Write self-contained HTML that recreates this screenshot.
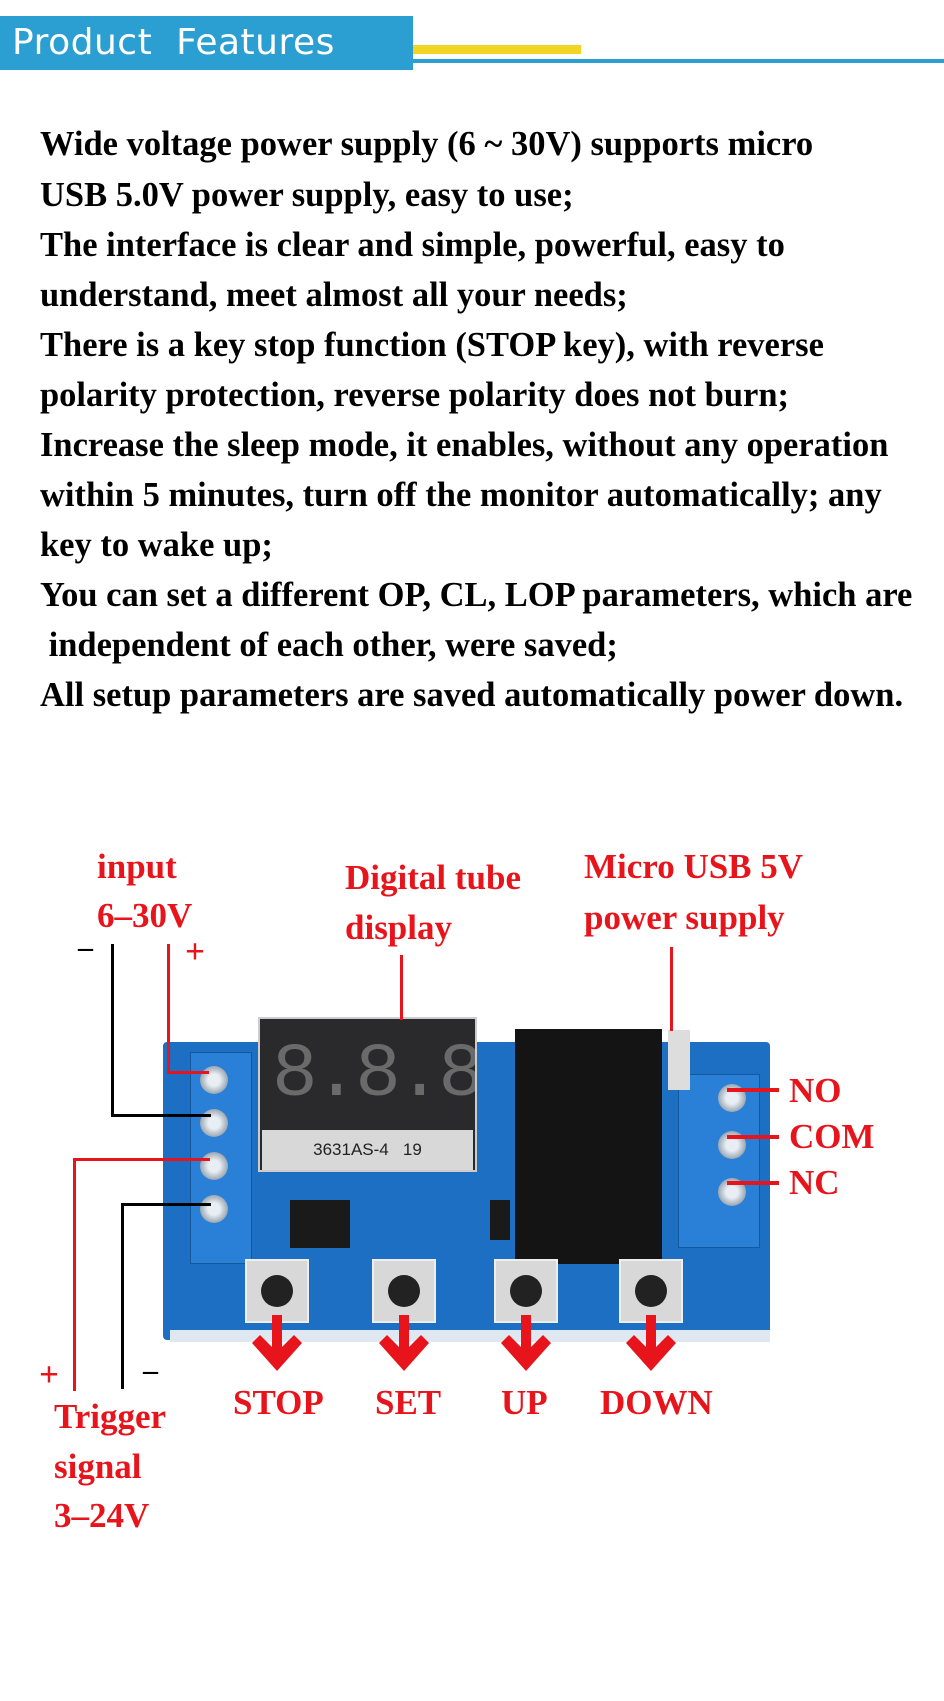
<!DOCTYPE html>
<html><head><meta charset="utf-8"><style>
*{margin:0;padding:0;box-sizing:border-box}
body{width:944px;height:1701px;background:#fff;position:relative;overflow:hidden;font-family:"Liberation Serif",serif}
.a{position:absolute}
.t{position:absolute;left:40px;font-weight:bold;font-size:34.5px;line-height:50px;color:#000;white-space:nowrap}
.r{position:absolute;color:#e8141c;font-weight:bold;font-size:35px;white-space:nowrap;line-height:1}
.ln{position:absolute}
.scr{position:absolute;width:28px;height:28px;border-radius:50%;background:radial-gradient(circle,#e8eef4 30%,#9aa7b3 70%);}
.btn{position:absolute;width:64px;height:64px;background:#d8d8d8;border:2px solid #eee}
.btn:after{content:"";position:absolute;left:14px;top:14px;width:32px;height:32px;border-radius:50%;background:#222}
</style></head><body>
<div class="a" style="left:0;top:16px;width:413px;height:54px;background:#2b9ed2"></div>
<div class="a" style="left:12px;top:20px;color:#fff;font-family:'DejaVu Sans',sans-serif;font-size:36px;line-height:46px;letter-spacing:0.5px">Product&nbsp; Features</div>
<div class="a" style="left:413px;top:45px;width:168px;height:9px;background:#f2d424"></div>
<div class="a" style="left:413px;top:59px;width:531px;height:4px;background:#2b9ed2"></div>

<div class="t" style="top:119px">Wide voltage power supply (6 ~ 30V) supports micro</div>
<div class="t" style="top:170px">USB 5.0V power supply, easy to use;</div>
<div class="t" style="top:220px">The interface is clear and simple, powerful, easy to</div>
<div class="t" style="top:270px">understand, meet almost all your needs;</div>
<div class="t" style="top:320px">There is a key stop function (STOP key), with reverse</div>
<div class="t" style="top:370px">polarity protection, reverse polarity does not burn;</div>
<div class="t" style="top:420px">Increase the sleep mode, it enables, without any operation</div>
<div class="t" style="top:470px">within 5 minutes, turn off the monitor automatically; any</div>
<div class="t" style="top:520px">key to wake up;</div>
<div class="t" style="top:570px">You can set a different OP, CL, LOP parameters, which are</div>
<div class="t" style="top:620px">&nbsp;independent of each other, were saved;</div>
<div class="t" style="top:670px">All setup parameters are saved automatically power down.</div>

<div class="a" style="left:163px;top:1042px;width:607px;height:298px;background:#1d6fc4;border-radius:4px"></div>
<div class="a" style="left:170px;top:1330px;width:600px;height:12px;background:#dfe8f0"></div>
<div class="a" style="left:190px;top:1052px;width:62px;height:212px;background:#2a7fd6;border:1px solid #14589e"></div>
<div class="scr" style="left:200px;top:1066px"></div>
<div class="scr" style="left:200px;top:1109px"></div>
<div class="scr" style="left:200px;top:1152px"></div>
<div class="scr" style="left:200px;top:1195px"></div>
<div class="a" style="left:258px;top:1017px;width:219px;height:155px;background:#2a2a2c;border:2px solid #ccc;overflow:hidden">
<div style="position:absolute;left:12px;top:6px;font-family:'Liberation Mono',monospace;font-size:76px;line-height:100px;color:#6a6a6a;letter-spacing:-4px">8.8.8.</div>
</div>
<div class="a" style="left:262px;top:1130px;width:211px;height:40px;background:#d8d8d8;font-family:'Liberation Sans',sans-serif;font-size:17px;line-height:40px;text-align:center;color:#222">3631AS-4 &nbsp; 19</div>
<div class="a" style="left:515px;top:1029px;width:147px;height:235px;background:#141414"></div>
<div class="a" style="left:290px;top:1200px;width:60px;height:48px;background:#1a1a1a"></div>
<div class="a" style="left:490px;top:1200px;width:20px;height:40px;background:#1a1a1a"></div>
<div class="a" style="left:678px;top:1074px;width:82px;height:174px;background:#2a7fd6;border:1px solid #14589e"></div>
<div class="scr" style="left:718px;top:1084px"></div>
<div class="scr" style="left:718px;top:1131px"></div>
<div class="scr" style="left:718px;top:1178px"></div>
<div class="a" style="left:668px;top:1030px;width:22px;height:60px;background:#ddd"></div>
<div class="btn" style="left:245px;top:1259px"></div>
<div class="btn" style="left:372px;top:1259px"></div>
<div class="btn" style="left:494px;top:1259px"></div>
<div class="btn" style="left:619px;top:1259px"></div>

<div class="ln" style="left:111px;top:944px;width:3px;height:173px;background:#000"></div>
<div class="ln" style="left:111px;top:1114px;width:100px;height:3px;background:#000"></div>
<div class="ln" style="left:167px;top:944px;width:3px;height:130px;background:#e8141c"></div>
<div class="ln" style="left:167px;top:1071px;width:42px;height:3px;background:#e8141c"></div>
<div class="ln" style="left:73px;top:1158px;width:3px;height:233px;background:#e8141c"></div>
<div class="ln" style="left:73px;top:1158px;width:137px;height:3px;background:#e8141c"></div>
<div class="ln" style="left:121px;top:1203px;width:3px;height:186px;background:#000"></div>
<div class="ln" style="left:121px;top:1203px;width:90px;height:3px;background:#000"></div>
<div class="ln" style="left:400px;top:955px;width:3px;height:65px;background:#e8141c"></div>
<div class="ln" style="left:670px;top:947px;width:3px;height:84px;background:#e8141c"></div>
<div class="ln" style="left:727px;top:1088px;width:52px;height:4px;background:#e8141c"></div>
<div class="ln" style="left:727px;top:1135px;width:52px;height:4px;background:#e8141c"></div>
<div class="ln" style="left:727px;top:1181px;width:52px;height:4px;background:#e8141c"></div>

<svg class="a" style="left:0;top:0" width="944" height="1701">
<g fill="#e8141c">
<path d="M272 1315h10v32l12-12 8 8-25 28-25-28 8-8 12 12z"/>
<path d="M399 1315h10v32l12-12 8 8-25 28-25-28 8-8 12 12z"/>
<path d="M521 1315h10v32l12-12 8 8-25 28-25-28 8-8 12 12z"/>
<path d="M646 1315h10v32l12-12 8 8-25 28-25-28 8-8 12 12z"/>
</g></svg>

<div class="r" style="left:97px;top:849px">input</div>
<div class="r" style="left:97px;top:898px">6–30V</div>
<div class="r" style="left:345px;top:860px">Digital tube</div>
<div class="r" style="left:345px;top:910px">display</div>
<div class="r" style="left:584px;top:849px">Micro USB 5V</div>
<div class="r" style="left:584px;top:900px">power supply</div>
<div class="a" style="left:78px;top:931px;font-size:30px;font-weight:bold;color:#000">–</div>
<div class="r" style="left:185px;top:934px">+</div>
<div class="r" style="left:789px;top:1073px">NO</div>
<div class="r" style="left:789px;top:1119px">COM</div>
<div class="r" style="left:789px;top:1165px">NC</div>
<div class="r" style="left:233px;top:1385px">STOP</div>
<div class="r" style="left:375px;top:1385px">SET</div>
<div class="r" style="left:501px;top:1385px">UP</div>
<div class="r" style="left:600px;top:1385px">DOWN</div>
<div class="r" style="left:39px;top:1357px">+</div>
<div class="a" style="left:143px;top:1354px;font-size:30px;font-weight:bold;color:#000">–</div>
<div class="r" style="left:54px;top:1399px">Trigger</div>
<div class="r" style="left:54px;top:1449px">signal</div>
<div class="r" style="left:54px;top:1498px">3–24V</div>
</body></html>
